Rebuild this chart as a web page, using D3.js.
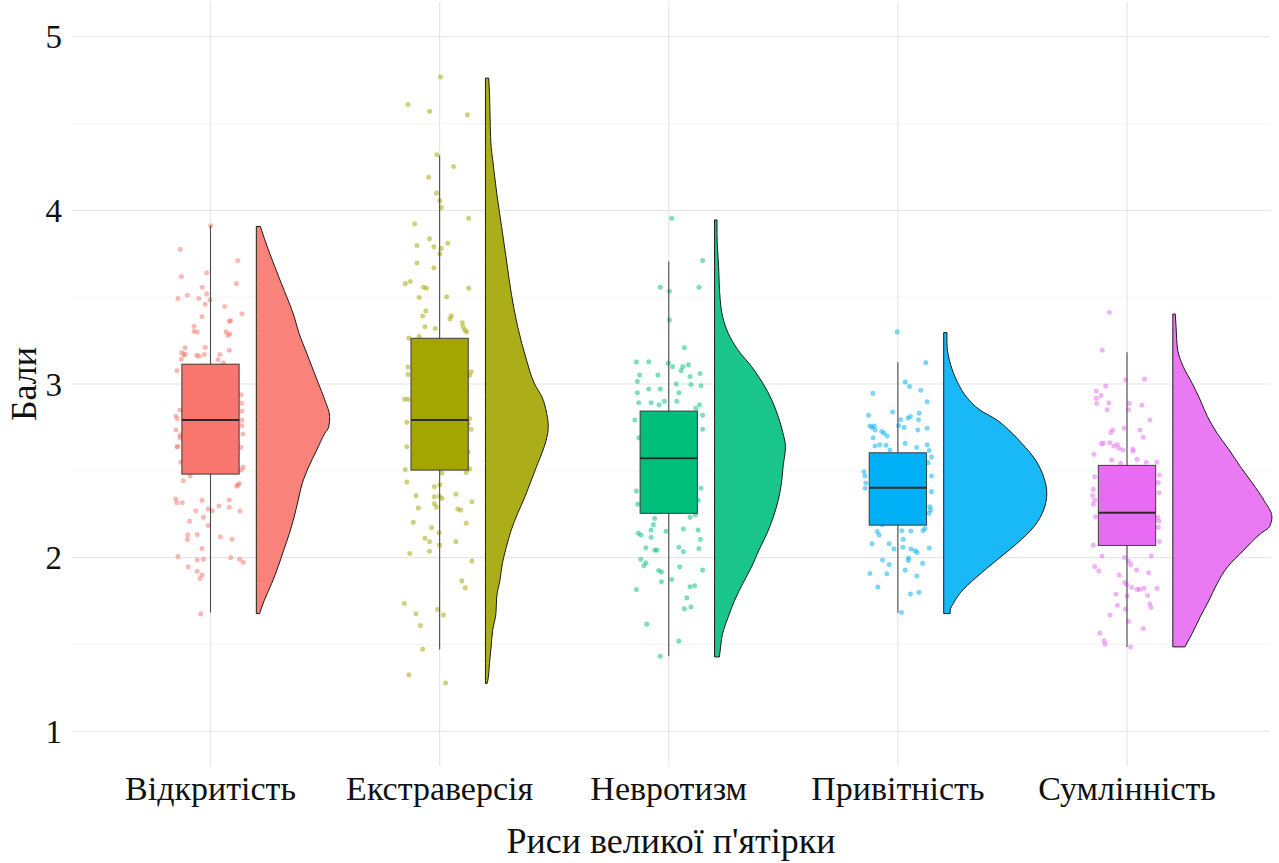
<!DOCTYPE html>
<html lang="uk">
<head>
<meta charset="utf-8">
<title>Риси великої п'ятірки</title>
<script src="https://cdn.jsdelivr.net/npm/d3@7/dist/d3.min.js"></script>
<style>
  html, body { margin: 0; padding: 0; background: #ffffff; }
  svg { display: block; }
</style>
</head>
<body>
<svg id="chart" width="1279" height="863"></svg>
<script>
// Big Five traits
const traits = ["Відкритість", "Екстраверсія", "Невротизм", "Привітність", "Сумлінність"];
const colors = ["#F8766D", "#A3A500", "#00BF7D", "#00B0F6", "#E76BF3"];
const yTicks = [1, 2, 3, 4, 5];
const yMinorTicks = [1.5, 2.5, 3.5, 4.5];

// Box-plot summaries per trait
const whiskerLow  = [1.684, 1.471, 1.432, 1.682, 1.486];
const quartile1   = [2.481, 2.504, 2.255, 2.187, 2.070];
const medians     = [2.792, 2.792, 2.572, 2.402, 2.258];
const quartile3   = [3.114, 3.263, 2.844, 2.604, 2.531];
const whiskerHigh = [3.911, 4.316, 3.705, 3.125, 3.183];

// Individual scores: [score, horizontal jitter in category units]
const openness = [
  [3.911,0.001],[3.776,-0.132],[3.711,0.119],[3.619,-0.127],[3.640,-0.017],[3.578,0.113],
  [3.557,-0.036],[3.519,-0.017],[3.492,-0.142],[3.511,-0.101],[3.492,-0.051],[3.484,-0.002],
  [3.459,-0.023],[3.446,0.062],[3.405,0.137],[3.388,-0.037],[3.332,-0.072],[3.365,0.088],
  [3.360,0.082],[3.302,-0.072],[3.300,-0.058],[3.300,0.068],[3.288,0.085],[3.280,0.076],
  [3.209,-0.111],[3.210,-0.023],[3.194,0.082],[3.181,-0.126],[3.169,-0.117],[3.170,-0.110],
  [3.165,-0.060],[3.160,-0.051],[3.170,-0.027],[3.170,0.041],[3.142,-0.127],[3.140,0.033],
  [3.077,-0.146],[3.120,0.056],[2.938,0.133],[2.890,0.136],[2.844,0.137],[2.793,0.137],
  [2.760,0.137],[2.712,0.142],[2.635,0.133],[2.816,-0.151],[2.800,-0.145],[2.735,-0.151],
  [2.706,-0.133],[2.690,-0.134],[2.639,-0.147],[2.640,-0.143],[2.549,-0.130],[2.850,-0.133],
  [2.520,0.143],[2.505,0.134],[2.470,-0.089],[2.443,-0.119],[2.418,0.120],[2.427,0.126],
  [2.412,0.114],[2.337,-0.152],[2.316,-0.147],[2.316,-0.123],[2.330,-0.037],[2.332,0.082],
  [2.297,0.037],[2.280,-0.011],[2.270,0.008],[2.268,0.129],[2.290,0.082],[2.270,-0.065],
  [2.232,-0.031],[2.210,-0.091],[2.185,-0.010],[2.132,-0.099],[2.133,-0.058],[2.120,0.043],
  [2.105,-0.101],[2.105,0.094],[2.053,-0.037],[2.007,-0.142],[2.000,0.088],[1.986,-0.058],
  [1.990,-0.031],[1.990,0.127],[1.974,0.143],[1.947,-0.097],[1.922,-0.058],[1.900,-0.037],
  [1.880,-0.046],[1.676,-0.043]
];
const extraversion = [
  [4.768,0.004],[4.610,-0.138],[4.570,-0.044],[4.550,0.121],[4.320,-0.012],[4.253,0.061],
  [4.191,-0.048],[4.099,-0.013],[4.055,0.001],[4.016,0.007],[3.955,0.127],[3.922,-0.109],
  [3.836,-0.044],[3.811,0.036],[3.797,-0.099],[3.790,-0.025],[3.780,0.007],[3.749,0.001],
  [3.697,-0.099],[3.669,-0.025],[3.578,-0.150],[3.590,-0.128],[3.557,-0.070],[3.552,-0.058],
  [3.552,0.127],[3.498,-0.089],[3.502,0.031],[3.421,-0.060],[3.392,-0.074],[3.392,0.051],
  [3.375,0.045],[3.353,0.099],[3.330,0.102],[3.310,0.110],[3.300,0.118],[3.330,-0.064],
  [3.320,-0.019],[3.275,-0.089],[3.264,-0.134],[3.098,-0.138],[3.054,-0.138],[3.070,0.138],
  [3.050,0.131],[2.912,-0.153],[2.912,-0.138],[2.779,-0.143],[2.800,0.131],[2.739,0.137],
  [2.770,0.125],[2.610,0.125],[2.639,-0.143],[2.508,-0.150],[2.510,0.131],[2.490,0.116],
  [2.435,-0.143],[2.487,0.010],[2.408,-0.023],[2.420,0.001],[2.356,-0.103],[2.350,-0.023],
  [2.353,0.000],[2.340,0.010],[2.365,0.071],[2.322,0.141],[2.310,-0.023],[2.291,-0.014],
  [2.285,-0.093],[2.280,0.079],[2.273,0.092],[2.203,-0.115],[2.198,0.116],[2.172,-0.035],
  [2.143,-0.003],[2.111,-0.064],[2.092,-0.044],[2.072,0.000],[2.092,0.071],[2.037,-0.044],
  [2.024,-0.130],[1.980,0.141],[1.866,0.097],[1.826,0.112],[1.736,-0.154],[1.701,-0.009],
  [1.669,0.017],[1.677,-0.103],[1.609,-0.084],[1.473,-0.074],[1.325,-0.134],[1.278,0.026]
];
const neuroticism = [
  [3.955,0.013],[3.711,0.148],[3.557,-0.037],[3.557,0.132],[3.534,0.003],[3.369,0.003],
  [3.209,0.068],[3.127,-0.141],[3.128,-0.087],[3.120,-0.002],[3.100,0.017],[3.100,0.061],
  [3.110,0.086],[3.077,0.054],[3.052,-0.127],[3.052,-0.047],[3.043,0.093],[3.060,0.137],
  [3.015,-0.137],[3.000,0.033],[2.997,0.097],[2.990,0.141],[2.971,-0.087],[2.971,-0.037],
  [2.950,-0.137],[2.950,0.044],[2.892,-0.131],[2.892,-0.077],[2.880,-0.042],[2.900,-0.019],
  [2.900,0.035],[2.880,0.134],[2.860,0.118],[2.793,-0.148],[2.820,0.148],[2.739,0.148],
  [2.690,-0.130],[2.383,-0.141],[2.308,-0.135],[2.400,0.141],[2.330,0.128],[2.232,0.093],
  [2.247,0.116],[2.225,-0.061],[2.159,-0.077],[2.152,-0.012],[2.165,0.064],[2.159,0.128],
  [2.140,-0.133],[2.130,-0.121],[2.190,-0.067],[2.117,-0.077],[2.105,0.138],[2.057,-0.100],
  [2.043,-0.061],[2.043,-0.051],[2.060,0.044],[2.034,0.064],[2.053,0.132],[1.991,-0.122],
  [1.970,-0.100],[1.953,-0.109],[1.947,0.048],[1.926,-0.044],[1.917,-0.032],[1.928,0.148],
  [1.861,-0.032],[1.874,0.013],[1.832,0.093],[1.838,0.113],[1.816,-0.141],[1.768,0.079],
  [1.705,0.068],[1.716,0.097],[1.617,-0.096],[1.519,0.044],[1.432,-0.037]
];
const agreeableness = [
  [3.300,-0.003],[3.123,0.122],[3.012,0.032],[2.985,0.051],[2.964,0.100],[2.946,-0.109],
  [2.898,0.128],[2.839,-0.023],[2.832,0.093],[2.820,-0.128],[2.813,0.055],[2.804,0.044],
  [2.794,0.012],[2.794,0.090],[2.758,-0.122],[2.758,-0.103],[2.750,-0.113],[2.760,0.003],
  [2.750,0.027],[2.745,0.128],[2.735,-0.099],[2.726,-0.070],[2.716,-0.060],[2.700,-0.047],
  [2.735,0.087],[2.690,-0.108],[2.658,0.032],[2.643,-0.100],[2.650,-0.079],[2.647,-0.052],
  [2.620,-0.035],[2.634,0.082],[2.650,0.128],[2.617,0.137],[2.579,0.147],[2.547,0.132],
  [2.495,-0.148],[2.470,-0.144],[2.430,-0.140],[2.400,-0.143],[2.470,0.147],[2.380,0.147],
  [2.293,0.140],[2.274,0.143],[2.255,0.137],[2.168,0.118],[2.155,0.110],[2.150,-0.090],
  [2.130,-0.082],[2.155,0.017],[2.153,0.057],[2.190,-0.068],[2.105,0.023],[2.080,-0.113],
  [2.080,-0.038],[2.060,0.022],[2.050,-0.017],[2.050,0.057],[2.055,0.137],[2.040,0.075],
  [2.030,0.084],[1.986,-0.067],[1.998,0.047],[1.983,0.045],[1.960,-0.038],[1.967,0.108],
  [1.928,0.032],[1.909,-0.122],[1.907,-0.048],[1.894,0.083],[1.830,-0.087],[1.790,0.055],
  [1.800,0.092],[1.684,0.016]
];
const conscientiousness = [
  [3.413,-0.077],[3.194,-0.108],[3.023,-0.006],[3.028,0.077],[2.988,-0.093],[2.960,-0.134],
  [2.933,-0.113],[2.918,-0.134],[2.888,-0.132],[2.891,-0.079],[2.888,0.010],[2.878,0.065],
  [2.852,-0.087],[2.852,0.007],[2.793,0.100],[2.746,-0.013],[2.735,-0.062],[2.720,-0.071],
  [2.735,0.057],[2.693,0.071],[2.656,-0.112],[2.658,-0.103],[2.661,-0.075],[2.643,-0.057],
  [2.651,-0.042],[2.630,-0.035],[2.626,0.025],[2.613,0.027],[2.620,-0.017],[2.595,-0.144],
  [2.562,-0.067],[2.566,0.044],[2.549,0.084],[2.549,0.130],[2.543,-0.027],[2.476,0.141],
  [2.432,0.137],[2.374,0.140],[2.466,-0.141],[2.393,-0.147],[2.358,-0.150],[2.331,-0.141],
  [2.308,-0.147],[2.235,-0.138],[2.231,0.134],[2.210,0.140],[2.174,0.137],[2.093,0.141],
  [2.072,-0.147],[2.009,-0.109],[2.001,-0.010],[2.010,0.106],[1.980,0.006],[1.961,0.017],
  [1.948,-0.141],[1.923,-0.123],[1.929,0.042],[1.913,0.095],[1.900,-0.034],[1.857,-0.010],
  [1.844,-0.001],[1.817,0.045],[1.817,0.055],[1.823,0.074],[1.829,0.021],[1.823,0.131],
  [1.790,-0.048],[1.782,0.090],[1.780,0.001],[1.726,-0.042],[1.703,-0.007],[1.734,0.100],
  [1.713,0.105],[1.670,-0.074],[1.632,0.007],[1.592,0.071],[1.565,-0.118],[1.521,-0.100],
  [1.502,-0.096],[1.485,0.016]
];
const scores = [openness, extraversion, neuroticism, agreeableness, conscientiousness];

// Kernel density estimates per trait: [score, density]
const densOpenness = [
  [3.907,0.05],[3.772,0.15],[3.580,0.31],[3.388,0.47],[3.292,0.53],[3.196,0.61],[3.100,0.69],
  [3.004,0.77],[2.908,0.85],[2.812,0.91],[2.754,0.90],[2.716,0.85],[2.620,0.75],[2.523,0.65],
  [2.428,0.57],[2.331,0.52],[2.235,0.47],[2.139,0.41],[2.043,0.34],[1.947,0.27],[1.851,0.19],
  [1.755,0.10],[1.678,0.04]
];
const densExtraversion = [
  [4.762,0.04],[4.675,0.05],[4.483,0.06],[4.368,0.07],[4.291,0.09],[4.099,0.14],[3.907,0.20],
  [3.715,0.26],[3.523,0.32],[3.330,0.40],[3.138,0.51],[3.000,0.61],[2.927,0.70],[2.831,0.76],
  [2.754,0.78],[2.639,0.73],[2.543,0.65],[2.447,0.57],[2.350,0.49],[2.255,0.40],[2.159,0.32],
  [2.062,0.26],[1.967,0.21],[1.870,0.18],[1.774,0.14],[1.678,0.13],[1.582,0.09],[1.486,0.07],
  [1.390,0.05],[1.294,0.03],[1.275,0.02]
];
const densNeuroticism = [
  [3.945,0.03],[3.868,0.03],[3.676,0.05],[3.484,0.07],[3.388,0.10],[3.292,0.17],[3.196,0.29],
  [3.100,0.46],[3.004,0.60],[2.908,0.71],[2.812,0.79],[2.716,0.85],[2.639,0.88],[2.523,0.85],
  [2.428,0.83],[2.331,0.79],[2.235,0.73],[2.139,0.65],[2.043,0.55],[1.947,0.46],[1.851,0.35],
  [1.755,0.25],[1.659,0.17],[1.563,0.10],[1.467,0.07],[1.428,0.06]
];
const densAgreeableness = [
  [3.296,0.04],[3.234,0.04],[3.138,0.07],[3.042,0.14],[2.984,0.20],[2.927,0.28],[2.850,0.45],
  [2.793,0.66],[2.716,0.85],[2.658,0.97],[2.562,1.14],[2.466,1.24],[2.370,1.28],[2.274,1.24],
  [2.178,1.12],[2.082,0.91],[1.986,0.66],[1.889,0.41],[1.794,0.20],[1.736,0.12],[1.697,0.08],
  [1.678,0.08]
];
const densConscientiousness = [
  [3.403,0.03],[3.330,0.04],[3.196,0.06],[3.100,0.13],[3.004,0.24],[2.908,0.34],[2.812,0.43],
  [2.716,0.55],[2.620,0.70],[2.523,0.84],[2.428,0.99],[2.331,1.13],[2.235,1.23],[2.178,1.20],
  [2.139,1.09],[2.043,0.88],[1.947,0.68],[1.851,0.55],[1.755,0.45],[1.659,0.34],[1.563,0.24],
  [1.486,0.15]
];
const densities = [densOpenness, densExtraversion, densNeuroticism, densAgreeableness, densConscientiousness];

const yAxisTitle = "Бали";
const xAxisTitle = "Риси великої п'ятірки";

// ---- layout ----
const panel = { left: 72, right: 1270, top: 2, bottom: 766 };
const serif = "'Liberation Serif', 'DejaVu Serif', 'Times New Roman', serif";

const x = d3.scalePoint().domain(traits).range([210.5, 1127]);
const step = x.step();
const y = d3.scaleLinear().domain([0.8, 5.2]).range([panel.bottom, panel.top]);

const maxDensity = d3.max(densities, d => d3.max(d, p => p[1]));
const dens = d3.scaleLinear().domain([0, maxDensity]).range([0, 0.45 * step]);

const boxHalf = 0.125 * step;
const violinOffset = 0.2 * step;

const svg = d3.select("#chart");

// ---- grid ----
const grid = svg.append("g").attr("class", "grid");
grid.selectAll("line.minor").data(yMinorTicks).join("line")
  .attr("x1", panel.left).attr("x2", panel.right)
  .attr("y1", d => y(d)).attr("y2", d => y(d))
  .attr("stroke", "#f0f0f0").attr("stroke-width", 0.8);
grid.selectAll("line.major").data(yTicks).join("line")
  .attr("x1", panel.left).attr("x2", panel.right)
  .attr("y1", d => y(d)).attr("y2", d => y(d))
  .attr("stroke", "#e6e6e6").attr("stroke-width", 1.2);
grid.selectAll("line.vert").data(traits).join("line")
  .attr("x1", d => x(d)).attr("x2", d => x(d))
  .attr("y1", panel.top).attr("y2", panel.bottom)
  .attr("stroke", "#e6e6e6").attr("stroke-width", 1.2);

// ---- half violins ----
const violin = d3.area()
  .curve(d3.curveMonotoneY)
  .y(p => y(p[0]));

svg.append("g").selectAll("path").data(traits).join("path")
  .attr("d", (t, i) => {
    const x0 = x(t) + violinOffset;
    return violin.x0(x0).x1(p => x0 + dens(p[1]))(densities[i]);
  })
  .attr("fill", (t, i) => colors[i])
  .attr("fill-opacity", 0.9)
  .attr("stroke", "#1a1a1a")
  .attr("stroke-width", 1);

// ---- jittered points ----
const pts = svg.append("g");
traits.forEach((t, i) => {
  pts.selectAll(null).data(scores[i]).join("circle")
    .attr("cx", p => x(t) + p[1] * step)
    .attr("cy", p => y(p[0]))
    .attr("r", 2.3)
    .attr("fill", colors[i])
    .attr("fill-opacity", 0.5)
    .attr("stroke", colors[i])
    .attr("stroke-opacity", 0.35)
    .attr("stroke-width", 0.6);
});

// ---- box plots ----
const boxes = svg.append("g").selectAll("g").data(traits).join("g");
boxes.append("line")
  .attr("x1", t => x(t)).attr("x2", t => x(t))
  .attr("y1", (t, i) => y(whiskerHigh[i])).attr("y2", (t, i) => y(whiskerLow[i]))
  .attr("stroke", "#4d4d4d").attr("stroke-width", 1.1);
boxes.append("rect")
  .attr("x", t => x(t) - boxHalf)
  .attr("width", 2 * boxHalf)
  .attr("y", (t, i) => y(quartile3[i]))
  .attr("height", (t, i) => y(quartile1[i]) - y(quartile3[i]))
  .attr("fill", (t, i) => colors[i])
  .attr("stroke", "#333333").attr("stroke-opacity", 0.85).attr("stroke-width", 1.1);
boxes.append("line")
  .attr("x1", t => x(t) - boxHalf).attr("x2", t => x(t) + boxHalf)
  .attr("y1", (t, i) => y(medians[i])).attr("y2", (t, i) => y(medians[i]))
  .attr("stroke", "#2a2a2a").attr("stroke-width", 2);

// ---- axes text ----
const txt = svg.append("g")
  .attr("font-family", serif)
  .attr("fill", "#111111");

txt.append("g").selectAll("text").data(yTicks).join("text")
  .attr("x", 62).attr("y", d => y(d))
  .attr("dy", "0.35em")
  .attr("text-anchor", "end")
  .attr("font-size", 33)
  .text(d => d);

txt.append("g").selectAll("text").data(traits).join("text")
  .attr("x", d => x(d)).attr("y", 800)
  .attr("text-anchor", "middle")
  .attr("font-size", 34)
  .text(d => d);

txt.append("text")
  .attr("x", (panel.left + panel.right) / 2).attr("y", 853)
  .attr("text-anchor", "middle")
  .attr("font-size", 36)
  .text(xAxisTitle);

txt.append("text")
  .attr("transform", `translate(36, ${y(3)}) rotate(-90)`)
  .attr("text-anchor", "middle")
  .attr("font-size", 36)
  .text(yAxisTitle);
</script>
</body>
</html>
